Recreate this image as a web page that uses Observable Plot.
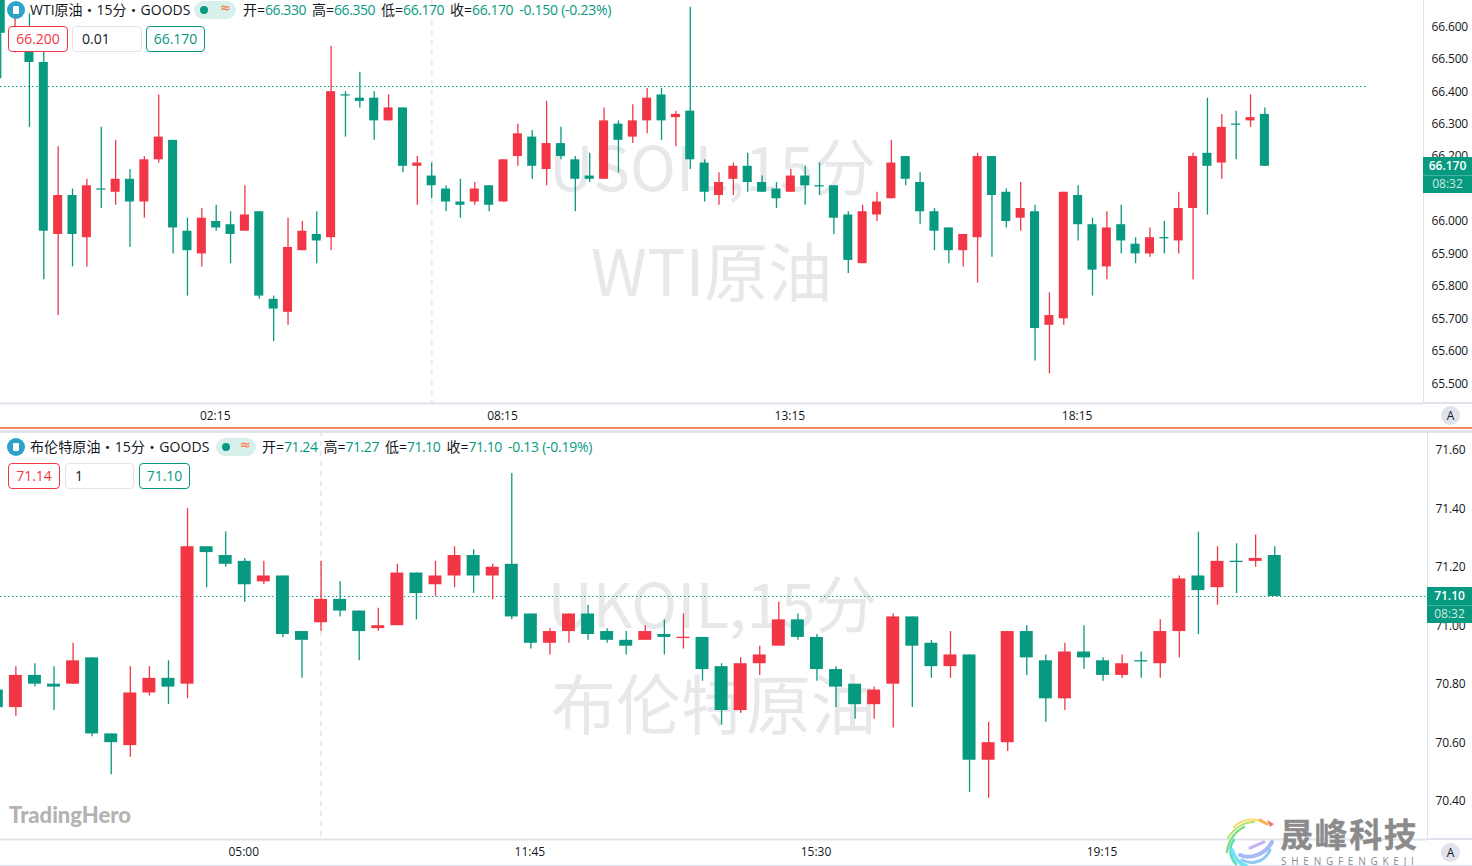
<!DOCTYPE html>
<html><head><meta charset="utf-8">
<script src="https://cdn.jsdelivr.net/npm/d3@7"></script>
<script src="https://cdn.jsdelivr.net/npm/@observablehq/plot@0.6"></script>
<style>
html,body{margin:0;padding:0;background:#fff;overflow:hidden}
#page{position:relative;width:1472px;height:866px;overflow:hidden;font-family:"Open Sans","Noto Sans CJK SC",sans-serif;color:#131722}
#c1,#c2{position:absolute;left:0}
#c1{top:0}#c2{top:431px}
.ab{position:absolute;white-space:nowrap}
.icon{width:18px;height:18px;border-radius:50%;background:#2ea3c9}
.icon:after{content:"";position:absolute;left:6px;top:5px;width:6px;height:8px;background:#fff;border-radius:1px}
.pill{height:18px;border-radius:9px;background:#d8f0ec}
.pill i{position:absolute;left:6px;top:5px;width:8px;height:8px;border-radius:50%;background:#089981}
.pill b{position:absolute;right:5px;top:-1px;font:700 13px "DejaVu Sans";color:#f7825c}
.hd{font-size:14px;line-height:20px}
.hd .g{letter-spacing:-.45px}
.hd .k{margin-right:6px}
.hd .t{color:#089981;letter-spacing:-.25px}
.g{color:#089981}
.box{box-sizing:border-box;height:26px;border-radius:4px;border:1px solid;background:#fff;font-size:14px;line-height:24px}
.tag{left:0;width:49px;background:#089981;color:#fff;text-align:center;font-size:12px}
.tag hr{margin:0;border:0;border-top:1px solid #3fb3a0;position:absolute;left:0;right:0;top:18px}
svg [aria-label="y-axis tick label"] text{letter-spacing:-.15px}
</style></head><body><div id="page"><div id="c1"></div><div id="c2"></div>
<div id="ov"></div></div>
<script>
const wtiOpen=[66.70,66.55,66.58,66.49,65.96,66.08,65.95,66.10,66.09,66.13,66.06,66.19,66.25,65.97,65.90,66.00,65.99,65.97,66.03,65.76,65.72,65.91,65.96,65.95,66.39,66.38,66.38,66.31,66.35,66.17,66.14,66.10,66.06,66.06,66.11,66.06,66.20,66.26,66.16,66.24,66.19,66.14,66.13,66.30,66.26,66.31,66.39,66.32,66.34,66.18,66.08,66.13,66.17,66.12,66.10,66.09,66.14,66.11,66.11,66.02,65.87,66.02,66.07,66.20,66.12,66.03,65.98,65.91,65.95,66.20,66.09,66.01,66.03,65.68,65.70,66.08,65.99,65.86,65.99,65.93,65.90,65.95,65.94,66.04,66.21,66.18,66.30,66.31,66.33];
const wtiHigh=[66.72,66.64,66.64,66.54,66.23,66.10,66.13,66.29,66.25,66.16,66.20,66.39,66.25,66.01,66.04,66.05,66.03,66.11,66.03,65.77,66.01,66.00,66.03,66.54,66.40,66.46,66.40,66.39,66.35,66.20,66.18,66.11,66.13,66.12,66.11,66.19,66.30,66.28,66.37,66.29,66.20,66.21,66.35,66.31,66.36,66.41,66.41,66.34,66.66,66.19,66.15,66.18,66.21,66.14,66.12,66.16,66.17,66.18,66.11,66.03,66.05,66.09,66.25,66.20,66.15,66.04,65.98,65.96,66.21,66.20,66.10,66.12,66.05,65.78,66.09,66.11,66.01,66.03,66.05,65.95,65.98,66.00,66.09,66.21,66.38,66.33,66.34,66.39,66.35];
const wtiLow=[66.44,66.52,66.29,65.82,65.71,65.86,65.86,66.04,66.05,65.92,66.01,66.18,65.90,65.77,65.86,65.97,65.87,65.97,65.76,65.63,65.68,65.91,65.87,65.91,66.26,66.35,66.25,66.31,66.15,66.05,66.07,66.03,66.01,66.05,66.03,66.06,66.17,66.13,66.11,66.19,66.03,66.12,66.13,66.15,66.24,66.27,66.25,66.23,66.16,66.06,66.05,66.08,66.09,66.09,66.04,66.09,66.05,66.08,65.96,65.84,65.87,66.00,66.07,66.11,65.99,65.91,65.87,65.86,65.81,65.89,65.98,65.97,65.57,65.53,65.68,65.94,65.77,65.82,65.90,65.87,65.89,65.90,65.90,65.82,66.02,66.13,66.19,66.29,66.17];
const wtiClose=[66.58,66.58,66.49,65.97,66.08,65.96,66.11,66.10,66.13,66.06,66.19,66.26,65.98,65.91,66.01,65.98,65.96,66.02,65.77,65.73,65.92,65.97,65.94,66.40,66.39,66.37,66.31,66.35,66.17,66.18,66.11,66.06,66.05,66.10,66.05,66.19,66.27,66.17,66.24,66.20,66.13,66.13,66.31,66.25,66.31,66.38,66.31,66.33,66.19,66.09,66.12,66.17,66.12,66.09,66.07,66.14,66.11,66.11,66.01,65.88,66.03,66.06,66.18,66.13,66.03,65.97,65.91,65.96,66.20,66.08,66.00,66.04,65.67,65.71,66.09,65.99,65.85,65.98,65.94,65.90,65.95,65.95,66.04,66.20,66.17,66.29,66.30,66.32,66.17];
const brentOpen=[70.78,70.72,70.83,70.80,70.80,70.89,70.63,70.59,70.77,70.82,70.80,71.27,71.24,71.22,71.15,71.17,70.98,71.01,71.09,71.05,70.99,71.00,71.18,71.14,71.17,71.24,71.17,71.21,71.04,70.94,70.98,71.04,70.98,70.95,70.95,70.97,70.96,70.96,70.86,70.71,70.87,70.93,71.02,70.96,70.85,70.80,70.73,70.80,71.03,70.94,70.86,70.90,70.54,70.60,70.98,70.88,70.75,70.91,70.88,70.83,70.88,70.87,70.98,71.17,71.13,71.22,71.22,71.24];
const brentHigh=[70.78,70.86,70.87,70.86,70.94,70.89,70.63,70.86,70.86,70.88,71.40,71.27,71.32,71.23,71.22,71.17,70.98,71.22,71.15,71.05,71.06,71.21,71.18,71.22,71.27,71.26,71.21,71.52,71.04,70.99,71.04,71.07,70.99,70.98,71.00,71.02,71.04,70.96,70.87,70.89,70.93,71.08,71.04,70.97,70.86,70.80,70.79,71.04,71.03,70.95,70.98,70.90,70.67,70.98,71.00,70.90,70.94,71.00,70.89,70.90,70.91,71.02,71.17,71.32,71.27,71.28,71.31,71.27];
const brentLow=[70.72,70.69,70.79,70.71,70.80,70.62,70.49,70.55,70.76,70.73,70.75,71.13,71.20,71.08,71.14,70.96,70.82,70.98,71.03,70.88,70.98,71.00,71.02,71.10,71.13,71.11,71.09,71.02,70.92,70.90,70.94,70.95,70.94,70.90,70.95,70.90,70.92,70.81,70.66,70.70,70.83,70.93,70.95,70.81,70.72,70.68,70.68,70.65,70.72,70.82,70.82,70.43,70.41,70.57,70.83,70.67,70.71,70.85,70.81,70.82,70.82,70.82,70.89,70.97,71.07,71.11,71.20,71.10];
const brentClose=[70.72,70.83,70.80,70.79,70.88,70.63,70.60,70.77,70.82,70.79,71.27,71.25,71.21,71.14,71.17,70.97,70.95,71.09,71.05,70.98,71.00,71.18,71.11,71.17,71.24,71.17,71.20,71.03,70.94,70.98,71.04,70.97,70.95,70.93,70.98,70.96,70.96,70.85,70.71,70.87,70.90,71.02,70.96,70.85,70.79,70.73,70.78,71.03,70.93,70.86,70.90,70.54,70.60,70.98,70.89,70.75,70.91,70.89,70.83,70.87,70.88,70.98,71.16,71.12,71.22,71.22,71.23,71.10];
const brentRedDoji=[36];

const wtiTicks=[66.6,66.5,66.4,66.3,66.2,66.0,65.9,65.8,65.7,65.6,65.5];
const brentTicks=[71.6,71.4,71.2,71.0,70.8,70.6,70.4];
const wtiTimes=["02:15","08:15","13:15","18:15"], wtiTimeIdx=[15,35,55,75];
const brentTimes=["05:00","11:45","15:30","19:15"], brentTimeIdx=[13,28,43,58];
const RED="#F23645",GREEN="#089981",FONT='"Open Sans","Noto Sans CJK SC",sans-serif';
const WMFONT='"Noto Sans CJK SC",sans-serif';

function table(o,h,l,c,rd=[]){return o.map((_,i)=>({i,o:o[i],h:h[i],l:l[i],c:c[i],up:c[i]>o[i]||rd.includes(i)}))}
function chart(opts){
  const d=table(opts.o,opts.h,opts.l,opts.c,opts.rd);
  const col=r=>r.up?RED:GREEN;
  const bw=opts.bodyHalf;
  return Plot.plot({
    width:1472,height:opts.height,marginTop:0,marginLeft:0,marginRight:opts.mr,marginBottom:opts.mb,
    style:{background:"transparent",fontFamily:FONT,overflow:"hidden"},
    x:{type:"linear",domain:opts.xd,axis:null},
    y:{type:"linear",domain:opts.yd,axis:null},
    marks:[
      ...opts.wm.map(w=>Plot.text([w.t],{frameAnchor:"top-left",dx:w.x,dy:w.y,fontSize:w.s,fill:"#e7e8ea",textAnchor:"middle",fontFamily:WMFONT})),
      Plot.ruleX([opts.session],{stroke:"#e8eaef",strokeWidth:2,strokeDasharray:"5 5"}),
      Plot.ruleY([opts.ref],{x1:opts.xd[0],x2:opts.refEnd,stroke:GREEN,strokeWidth:1,strokeDasharray:"1.5 2.5"}),
      Plot.ruleX(d,{x:"i",y1:"l",y2:"h",stroke:col,strokeWidth:1.3,clip:true}),
      Plot.rect(d.filter(r=>r.o!==r.c),{x1:r=>r.i-bw,x2:r=>r.i+bw,y1:"o",y2:"c",fill:col,clip:true}),
      Plot.ruleY(d.filter(r=>r.o===r.c),{x1:r=>r.i-bw,x2:r=>r.i+bw,y:"o",stroke:col,strokeWidth:1.3,clip:true}),
      Plot.axisY({anchor:"right",label:null,ticks:opts.yt,tickSize:0,tickPadding:8,tickFormat:opts.yf,fontSize:12,fill:"#131722",textAnchor:"start"}),
      Plot.axisX({anchor:"bottom",label:null,ticks:opts.xt,tickSize:0,tickPadding:opts.xp,dx:-1,tickFormat:(v)=>opts.xl[opts.xt.indexOf(v)],fontSize:12,fill:"#131722"}),
      Plot.ruleX([opts.xd[1]],{stroke:"#e0e3eb",strokeWidth:1}),
      Plot.ruleY([opts.yd[0]],{stroke:"#e0e3eb",strokeWidth:2})
    ]
  });
}
document.getElementById("c1").append(chart({
  o:wtiOpen,h:wtiHigh,l:wtiLow,c:wtiClose,height:428,mr:49,mb:25,
  xd:[-0.014,99.04],yd:[65.439,66.681],yt:wtiTicks,yf:d3.format(".3f"),xt:wtiTimeIdx,xl:wtiTimes,xp:8,
  bodyHalf:0.315,session:30,ref:66.416,refEnd:95.2,
  wm:[{t:"USOIL,15分",x:712,y:146,s:62},{t:"WTI原油",x:711,y:250,s:64}]
}));
document.getElementById("c2").append(chart({
  o:brentOpen,h:brentHigh,l:brentLow,c:brentClose,rd:brentRedDoji,height:435,mr:45,mb:27,
  xd:[0.194,75.01],yd:[70.269,71.664],yt:brentTicks,yf:d3.format(".2f"),xt:brentTimeIdx,xl:brentTimes,xp:8,
  bodyHalf:0.34,session:17,ref:71.10,refEnd:75.01,
  wm:[{t:"UKOIL,15分",x:712,y:152,s:62},{t:"布伦特原油",x:713,y:251,s:65}]
}));

const ov=document.getElementById("ov");
function add(html){ov.insertAdjacentHTML("beforeend",html)}
function header(top,name,pillX,pillW,vals,valsX,ls){
  add(`<div class="ab icon" style="left:7px;top:${top+1}px"></div>`);
  add(`<div class="ab hd" style="left:30px;top:${top}px;letter-spacing:${ls}px">${name}</div>`);
  add(`<div class="ab pill" style="left:${pillX}px;top:${top+1}px;width:${pillW}px"><i></i><b>≈</b></div>`);
  add(`<div class="ab hd" style="left:${valsX}px;top:${top}px">${vals}</div>`);
}
const v=(k,n)=>`<span class="k">${k}=<span class="g">${n}</span></span>`;
header(0,"WTI原油・15分・GOODS",194,42,v("开","66.330")+v("高","66.350")+v("低","66.170")+v("收","66.170")+`<span class="t">-0.150 (-0.23%)</span>`,243,0);
header(437,"布伦特原油・15分・GOODS",216,40,v("开","71.24")+v("高","71.27")+v("低","71.10")+v("收","71.10")+`<span class="t">-0.13 (-0.19%)</span>`,262,.12);
function boxes(top,a,b,c,xs){
  add(`<div class="ab box" style="left:${xs[0]}px;top:${top}px;width:${xs[1]}px;border-color:${RED};color:${RED};text-align:center">${a}</div>`);
  add(`<div class="ab box" style="left:${xs[2]}px;top:${top}px;width:${xs[3]}px;border-color:#e0e3eb;padding-left:9px">${b}</div>`);
  add(`<div class="ab box" style="left:${xs[4]}px;top:${top}px;width:${xs[5]}px;border-color:${GREEN};color:${GREEN};text-align:center">${c}</div>`);
}
boxes(26,"66.200","0.01","66.170",[8,60,72,70,146,59]);
boxes(463,"71.14","1","71.10",[8,52,65,69,139,51]);
add(`<div class="ab tag" style="left:1423px;top:157px;height:36px;line-height:18px;font-weight:600">66.170<hr><br><span style="font-weight:400;color:#cfe9e4">08:32</span></div>`);
add(`<div class="ab tag" style="left:1427px;top:587px;width:45px;height:36px;line-height:18px;font-weight:600">71.10<hr><br><span style="font-weight:400;color:#cfe9e4">08:32</span></div>`);
function aBadge(top){add(`<div class="ab" style="left:1441px;top:${top}px;width:19px;height:19px;border-radius:50%;background:#e0e3eb;text-align:center;font-size:12px;line-height:19px">A</div>`)}
aBadge(406);aBadge(843);
add(`<div class="ab" style="left:1423px;top:402px;width:49px;height:2px;background:#e0e3eb"></div>`);
add(`<div class="ab" style="left:1427px;top:838px;width:45px;height:2px;background:#e0e3eb"></div>`);
add(`<div class="ab" style="left:0;top:427px;width:1472px;height:2px;background:#f5865f"></div>`);
add(`<div class="ab" style="left:0;top:430px;width:1472px;height:3px;background:#e0e3eb"></div>`);
add(`<div class="ab" style="left:0;top:865px;width:1472px;height:1px;background:#e0e3eb"></div>`);
add(`<div class="ab" style="left:9px;top:801px;font:900 22px Lato;color:#b3b3b3">TradingHero</div>`);
add(`<div class="ab" style="left:1280px;top:816px;font:700 33px/34px 'Noto Sans CJK SC';color:#8b8b8b;letter-spacing:1.6px;-webkit-text-stroke:.3px #8b8b8b">晟峰科技</div>`);
add(`<div class="ab" style="left:1281px;top:856px;font:400 10px/10px 'Open Sans';color:#8b8b8b;letter-spacing:4.75px">SHENGFENGKEJI</div>`);
add(`<svg class="ab" style="left:1220px;top:814px" width="60" height="52" fill="none" stroke-linecap="round">
<path d="M44 9 C34 3 22 5 14 13" stroke="#f5dc62" stroke-width="2"/>
<path d="M34 8 C24 8 14 14 8 24" stroke="#b4e26c" stroke-width="2"/>
<path d="M24 13 C14 18 8 28 7 38" stroke="#7fe089" stroke-width="2.5"/>
<path d="M14 26 C8 34 10 44 16 50" stroke="#5fd9c0" stroke-width="2.5"/>
<path d="M12 36 C14 44 20 50 26 52" stroke="#70e3f5" stroke-width="4"/>
<path d="M40 6 L47 10" stroke="#f5b45a" stroke-width="3"/>
<path d="M47 6 L54 10 L50 13 Z" fill="#f0776d"/>
<path d="M20 41 C30 46 46 40 52 28" stroke="#a9b9f8" stroke-width="4"/>
<path d="M30 34 L44 28" stroke="#c9b3f0" stroke-width="3"/>
<path d="M22 46 C34 52 46 46 50 36" stroke="#8fc7f7" stroke-width="3"/>
</svg>`);
</script></body></html>
